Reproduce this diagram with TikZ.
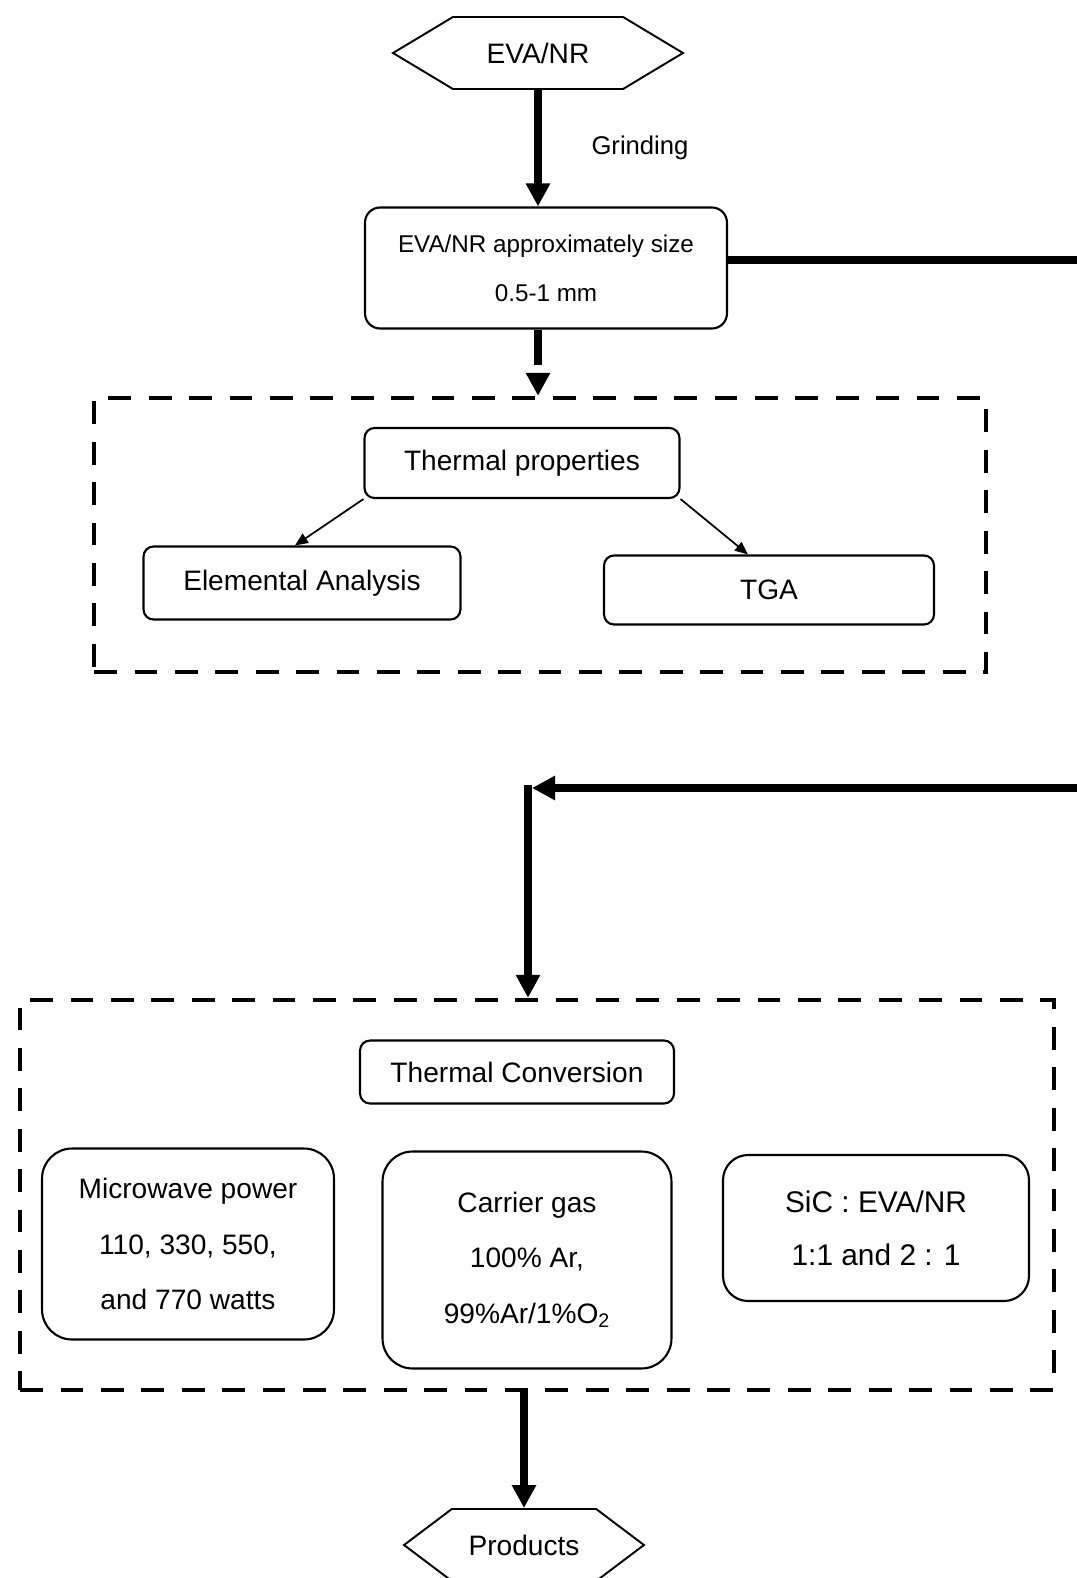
\documentclass[tikz,border=0pt]{standalone}
\usepackage{fontspec}
\setmainfont{Liberation Sans}
\usetikzlibrary{arrows.meta,shapes.symbols}
\begin{document}
\begin{tikzpicture}[x=0.02cm,y=-0.02cm,
    hexnode/.style={signal,signal to=east and west,draw,line width=1.1pt,inner sep=0pt,minimum height=1.44cm,font=\fontsize{16}{19}\selectfont},
    procnode/.style={draw,rounded corners=0.2cm,line width=1.2pt,inner sep=0pt,align=center,font=\fontsize{16}{19}\selectfont},
    groupbox/.style={draw,line width=2.5pt,dash pattern=on 13pt off 10pt,inner sep=0pt},
    bigarrow/.style={line width=4.5pt,-{Triangle[width=0.46cm,length=0.46cm]}},
    smallarrow/.style={line width=1pt,-{Triangle[width=0.22cm,length=0.26cm]}} ]
    \useasboundingbox (0,0) rectangle (1076,1578);
    \node at (538,53) [hexnode,minimum width=5.8cm,signal pointer angle=62] (eva) {EVA/NR};
    \node at (640,148) [font=\fontsize{14.6}{18}\selectfont] (grind) {Grinding};
    \node at (546,268) [procnode,minimum width=7.24cm,minimum height=2.42cm,rounded corners=0.3cm,font=\fontsize{13.8}{28}\selectfont] (size) {EVA/NR approximately size\\0.5-1 mm};
    \node at (540,535) [groupbox,minimum width=17.84cm,minimum height=5.48cm] (tpbox) {};
    \node at (522,463) [procnode,minimum width=6.3cm,minimum height=1.4cm] (thermprop) {Thermal properties};
    \node at (302,583) [procnode,minimum width=6.34cm,minimum height=1.46cm] (elem) {Elemental Analysis};
    \node at (769,590) [procnode,minimum width=6.6cm,minimum height=1.38cm] (tga) {TGA};
    \node at (537,1195) [groupbox,minimum width=20.68cm,minimum height=7.8cm] (convbox) {};
    \node at (517,1072) [procnode,minimum width=6.28cm,minimum height=1.26cm] (thermconv) {Thermal Conversion};
    \node at (188,1244) [procnode,minimum width=5.84cm,minimum height=3.82cm,rounded corners=0.6cm,font=\fontsize{16}{31.5}\selectfont] (micro) {Microwave power\\110, 330, 550,\\and 770 watts};
    \node at (527,1260) [procnode,minimum width=5.78cm,minimum height=4.34cm,rounded corners=0.6cm,font=\fontsize{16}{31.5}\selectfont] (carrier) {Carrier gas\\100\% Ar,\\99\%Ar/1\%O\textsubscript{2}};
    \node at (876,1228) [procnode,minimum width=6.12cm,minimum height=2.92cm,rounded corners=0.5cm,font=\fontsize{17}{30}\selectfont] (sicratio) {SiC : EVA/NR\\1:1 and 2 : 1};
    \node at (524,1545) [hexnode,minimum width=4.8cm,signal pointer angle=74] (prod) {Products};
    \coordinate (edgetop) at (1080,260);
    \coordinate (edgemid) at (1080,788);
    \coordinate (turn) at (528,788);
    \draw [bigarrow] (eva.south) to (eva.south |- size.north);
    \draw [bigarrow,dash pattern=on 0.7cm off 0.32cm] (size.south -| eva.south) to (eva.south |- tpbox.north);
    \draw [smallarrow] (thermprop.south west) to ([xshift=-0.14cm]elem.north);
    \draw [smallarrow] (thermprop.south east) to ([xshift=-0.42cm]tga.north);
    \draw [line width=4.5pt] (size.east |- edgetop) to (edgetop);
    \draw [bigarrow] (edgemid) to ([xshift=0.08cm]turn);
    \draw [bigarrow] ([yshift=0.06cm]turn) to (turn |- convbox.north);
    \draw [bigarrow] (prod.north |- convbox.south) to (prod.north);
\end{tikzpicture}
\end{document}
